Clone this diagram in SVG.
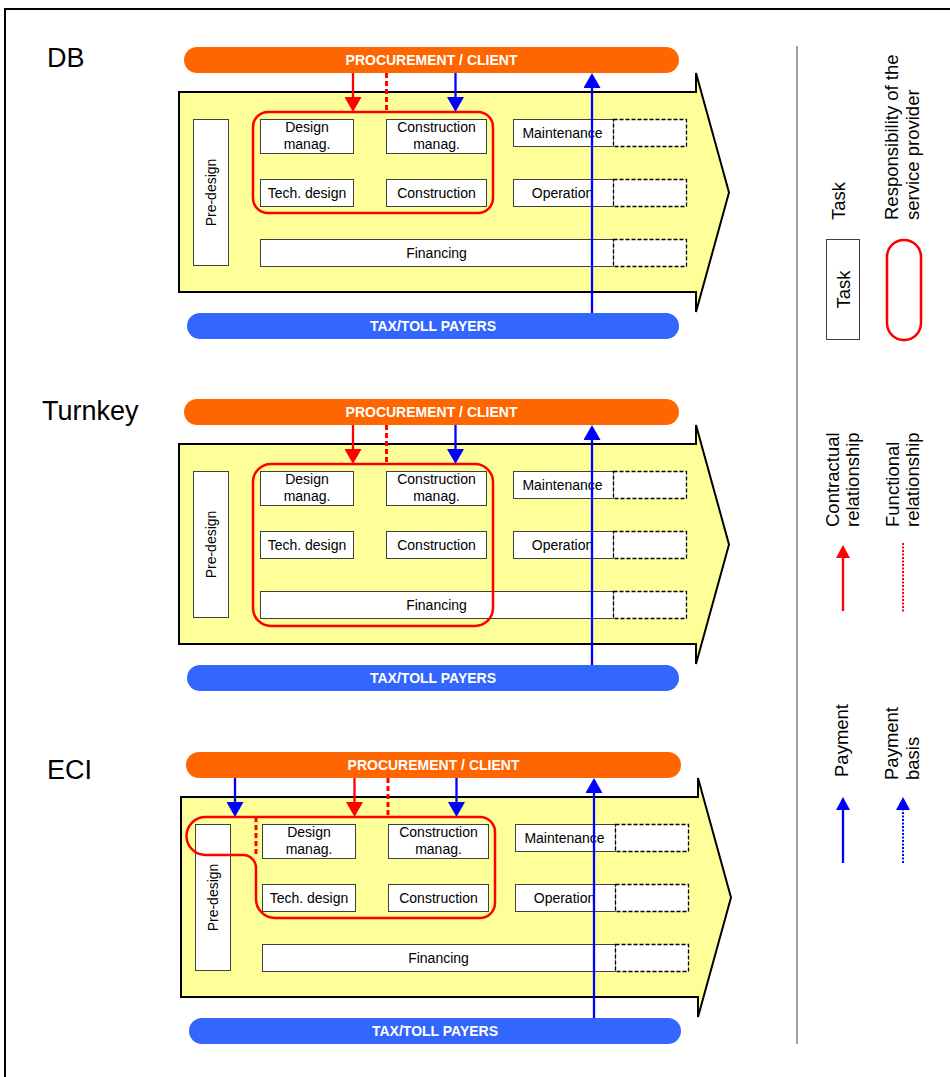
<svg xmlns="http://www.w3.org/2000/svg" width="950" height="1077" viewBox="0 0 950 1077">
<style>
text{font-family:"Liberation Sans",Arial,sans-serif;fill:#000}
.t{font-size:14px;text-anchor:middle}
.bt{font-size:14px;font-weight:bold;fill:#fff;text-anchor:middle}
.lbl{font-size:27px}
.leg{font-size:18.5px}
.box{fill:#fff;stroke:#404040;stroke-width:1}
.dbox{fill:#fff;stroke:#000;stroke-width:1.3;stroke-dasharray:4 2}
.body{fill:#ffff99;stroke:#000;stroke-width:2}
.resp{fill:none;stroke:#f00;stroke-width:2.5}
.proc{fill:#ff6600}
.pay{fill:#3366ff}
.cr{stroke:#f00;stroke-width:2.3;fill:none}
.cb{stroke:#00f;stroke-width:2.3;fill:none}
.fr{stroke:#f00;stroke-width:3;stroke-dasharray:5 3;fill:none}
.dotr{stroke:#f00;stroke-width:2;stroke-dasharray:2 1.5;fill:none}
.dotb{stroke:#00f;stroke-width:2;stroke-dasharray:2 1.5;fill:none}
</style>
<defs>
<marker id="ah-red" viewBox="0 0 15 17" refX="0" refY="8.5" markerWidth="15" markerHeight="17" markerUnits="userSpaceOnUse" orient="auto"><path d="M0,0 L15,8.5 L0,17 Z" fill="#f00"/></marker>
<marker id="ah-blue" viewBox="0 0 15 17" refX="0" refY="8.5" markerWidth="15" markerHeight="17" markerUnits="userSpaceOnUse" orient="auto"><path d="M0,0 L15,8.5 L0,17 Z" fill="#00f"/></marker>
<marker id="ahs-red" viewBox="0 0 13 14" refX="0" refY="7" markerWidth="13" markerHeight="14" markerUnits="userSpaceOnUse" orient="auto"><path d="M0,0 L13,7 L0,14 Z" fill="#f00"/></marker>
<marker id="ahs-blue" viewBox="0 0 13 14" refX="0" refY="7" markerWidth="13" markerHeight="14" markerUnits="userSpaceOnUse" orient="auto"><path d="M0,0 L13,7 L0,14 Z" fill="#00f"/></marker>
</defs>

<path d="M5,1077 V9 H950" fill="none" stroke="#000" stroke-width="2"/>

<!-- DB panel -->
<g id="panel-db">
<text id="db-label" class="lbl" x="47" y="67">DB</text>
<g id="db-procurement"><rect class="proc" x="184" y="47" width="495" height="26" rx="13"/><text class="bt" x="431.5" y="65">PROCUREMENT / CLIENT</text></g>
<g id="db-payers"><rect class="pay" x="187" y="313" width="492" height="26" rx="13"/><text class="bt" x="433" y="331">TAX/TOLL PAYERS</text></g>
<g id="db-process"><path class="body" d="M179,92 H696 V73 L729,192.5 L696,312 V292 H179 Z"/></g>
<g id="db-predesign"><rect class="box" x="193.5" y="119.5" width="35" height="146"/><text class="t" transform="translate(215.5,192.5) rotate(-90)">Pre-design</text></g>
<g id="db-designmanag"><rect class="box" x="260.5" y="119.5" width="93" height="34"/><text class="t" x="307" y="132">Design</text><text class="t" x="307" y="149">manag.</text></g>
<g id="db-constrmanag"><rect class="box" x="386.5" y="119.5" width="100" height="34"/><text class="t" x="436.5" y="132">Construction</text><text class="t" x="436.5" y="149">manag.</text></g>
<g id="db-techdesign"><rect class="box" x="260.5" y="179.5" width="93" height="27"/><text class="t" x="307" y="198">Tech. design</text></g>
<g id="db-construction"><rect class="box" x="386.5" y="179.5" width="100" height="27"/><text class="t" x="436.5" y="198">Construction</text></g>
<g id="db-maintenance"><rect class="box" x="513.5" y="119.5" width="100" height="27"/><rect class="dbox" x="613.5" y="119.5" width="73" height="27"/><text class="t" x="562.5" y="138">Maintenance</text></g>
<g id="db-operation"><rect class="box" x="513.5" y="179.5" width="100" height="27"/><rect class="dbox" x="613.5" y="179.5" width="73" height="27"/><text class="t" x="562.5" y="198">Operation</text></g>
<g id="db-financing"><rect class="box" x="260.5" y="239.5" width="353" height="27"/><rect class="dbox" x="613.5" y="239.5" width="73" height="27"/><text class="t" x="436.5" y="258">Financing</text></g>
<g id="db-responsibility"><rect class="resp" x="253" y="112" width="240" height="101" rx="15"/></g>
</g>

<!-- Turnkey panel -->
<g id="panel-turnkey" transform="translate(0,352)">
<text id="tk-label" class="lbl" x="42" y="68">Turnkey</text>
<g id="tk-procurement"><rect class="proc" x="184" y="47" width="495" height="26" rx="13"/><text class="bt" x="431.5" y="65">PROCUREMENT / CLIENT</text></g>
<g id="tk-payers"><rect class="pay" x="187" y="313" width="492" height="26" rx="13"/><text class="bt" x="433" y="331">TAX/TOLL PAYERS</text></g>
<g id="tk-process"><path class="body" d="M179,92 H696 V73 L729,192.5 L696,312 V292 H179 Z"/></g>
<g id="tk-predesign"><rect class="box" x="193.5" y="119.5" width="35" height="146"/><text class="t" transform="translate(215.5,192.5) rotate(-90)">Pre-design</text></g>
<g id="tk-designmanag"><rect class="box" x="260.5" y="119.5" width="93" height="34"/><text class="t" x="307" y="132">Design</text><text class="t" x="307" y="149">manag.</text></g>
<g id="tk-constrmanag"><rect class="box" x="386.5" y="119.5" width="100" height="34"/><text class="t" x="436.5" y="132">Construction</text><text class="t" x="436.5" y="149">manag.</text></g>
<g id="tk-techdesign"><rect class="box" x="260.5" y="179.5" width="93" height="27"/><text class="t" x="307" y="198">Tech. design</text></g>
<g id="tk-construction"><rect class="box" x="386.5" y="179.5" width="100" height="27"/><text class="t" x="436.5" y="198">Construction</text></g>
<g id="tk-maintenance"><rect class="box" x="513.5" y="119.5" width="100" height="27"/><rect class="dbox" x="613.5" y="119.5" width="73" height="27"/><text class="t" x="562.5" y="138">Maintenance</text></g>
<g id="tk-operation"><rect class="box" x="513.5" y="179.5" width="100" height="27"/><rect class="dbox" x="613.5" y="179.5" width="73" height="27"/><text class="t" x="562.5" y="198">Operation</text></g>
<g id="tk-financing"><rect class="box" x="260.5" y="239.5" width="353" height="27"/><rect class="dbox" x="613.5" y="239.5" width="73" height="27"/><text class="t" x="436.5" y="258">Financing</text></g>
<g id="tk-responsibility"><rect class="resp" x="253" y="112" width="240" height="162" rx="18"/></g>
</g>

<!-- ECI panel -->
<g id="panel-eci" transform="translate(2,705)">
<text id="eci-label" class="lbl" x="45" y="74">ECI</text>
<g id="eci-procurement"><rect class="proc" x="184" y="47" width="495" height="26" rx="13"/><text class="bt" x="431.5" y="65">PROCUREMENT / CLIENT</text></g>
<g id="eci-payers"><rect class="pay" x="187" y="313" width="492" height="26" rx="13"/><text class="bt" x="433" y="331">TAX/TOLL PAYERS</text></g>
<g id="eci-process"><path class="body" d="M179,92 H696 V73 L729,192.5 L696,312 V292 H179 Z"/></g>
<g id="eci-predesign"><rect class="box" x="193.5" y="119.5" width="35" height="146"/><text class="t" transform="translate(215.5,192.5) rotate(-90)">Pre-design</text></g>
<g id="eci-designmanag"><rect class="box" x="260.5" y="119.5" width="93" height="34"/><text class="t" x="307" y="132">Design</text><text class="t" x="307" y="149">manag.</text></g>
<g id="eci-constrmanag"><rect class="box" x="386.5" y="119.5" width="100" height="34"/><text class="t" x="436.5" y="132">Construction</text><text class="t" x="436.5" y="149">manag.</text></g>
<g id="eci-techdesign"><rect class="box" x="260.5" y="179.5" width="93" height="27"/><text class="t" x="307" y="198">Tech. design</text></g>
<g id="eci-construction"><rect class="box" x="386.5" y="179.5" width="100" height="27"/><text class="t" x="436.5" y="198">Construction</text></g>
<g id="eci-maintenance"><rect class="box" x="513.5" y="119.5" width="100" height="27"/><rect class="dbox" x="613.5" y="119.5" width="73" height="27"/><text class="t" x="562.5" y="138">Maintenance</text></g>
<g id="eci-operation"><rect class="box" x="513.5" y="179.5" width="100" height="27"/><rect class="dbox" x="613.5" y="179.5" width="73" height="27"/><text class="t" x="562.5" y="198">Operation</text></g>
<g id="eci-financing"><rect class="box" x="260.5" y="239.5" width="353" height="27"/><rect class="dbox" x="613.5" y="239.5" width="73" height="27"/><text class="t" x="436.5" y="258">Financing</text></g>
<g id="eci-responsibility"><path class="resp" d="M203.5,112 H478 A15,15 0 0 1 493,127 V198 A15,15 0 0 1 478,213 H273 A19,19 0 0 1 254,194 V163 A13,13 0 0 0 241,150 H203.5 A19,19 0 0 1 203.5,112 Z"/></g>
</g>

<!-- Legend -->
<g id="legend">
<line id="legend-divider" x1="797" y1="46" x2="797" y2="1044" stroke="#808080" stroke-width="1.5"/>
<g id="leg-task"><text class="leg" transform="translate(845,220) rotate(-90)">Task</text><rect class="box" x="826.5" y="239.5" width="33" height="100"/><text class="leg" text-anchor="middle" transform="translate(849.5,289.5) rotate(-90)">Task</text></g>
<g id="leg-resp"><text class="leg" transform="translate(898,220) rotate(-90)">Responsibility of the</text><text class="leg" transform="translate(919,220) rotate(-90)">service provider</text><rect class="resp" x="887" y="240" width="34" height="100" rx="17"/></g>
<g id="leg-contract"><text class="leg" transform="translate(839,527) rotate(-90)">Contractual</text><text class="leg" transform="translate(859,527) rotate(-90)">relationship</text></g>
<g id="leg-functional"><text class="leg" transform="translate(899,527) rotate(-90)">Functional</text><text class="leg" transform="translate(919,527) rotate(-90)">relationship</text></g>
<g id="leg-payment"><text class="leg" transform="translate(848,777) rotate(-90)">Payment</text></g>
<g id="leg-paybasis"><text class="leg" transform="translate(898,780) rotate(-90)">Payment</text><text class="leg" transform="translate(919,780) rotate(-90)">basis</text></g>
</g>

<!-- Connectors -->
<g id="connectors">
<g id="db-links">
<line class="cr" x1="353" y1="73" x2="353" y2="97" marker-end="url(#ah-red)"/>
<line class="fr" x1="386.5" y1="73" x2="386.5" y2="112"/>
<line class="cb" x1="455.5" y1="73" x2="455.5" y2="97" marker-end="url(#ah-blue)"/>
<line class="cb" x1="592" y1="313" x2="592" y2="88" marker-end="url(#ah-blue)"/>
</g>
<g id="tk-links" transform="translate(0,352)">
<line class="cr" x1="353" y1="73" x2="353" y2="97" marker-end="url(#ah-red)"/>
<line class="fr" x1="386.5" y1="73" x2="386.5" y2="112"/>
<line class="cb" x1="455.5" y1="73" x2="455.5" y2="97" marker-end="url(#ah-blue)"/>
<line class="cb" x1="592" y1="313" x2="592" y2="88" marker-end="url(#ah-blue)"/>
</g>
<g id="eci-links" transform="translate(2,705)">
<line class="cb" x1="233" y1="73" x2="233" y2="97" marker-end="url(#ah-blue)"/>
<line class="cr" x1="352.5" y1="73" x2="352.5" y2="97" marker-end="url(#ah-red)"/>
<line class="fr" x1="386" y1="73" x2="386" y2="112"/>
<line class="cb" x1="454.5" y1="73" x2="454.5" y2="97" marker-end="url(#ah-blue)"/>
<line class="cb" x1="592" y1="313" x2="592" y2="88" marker-end="url(#ah-blue)"/>
<line class="fr" x1="254" y1="112" x2="254" y2="151"/>
</g>
<g id="legend-links">
<line class="cr" x1="843" y1="611" x2="843" y2="558" marker-end="url(#ahs-red)"/>
<line class="dotr" x1="903" y1="543" x2="903" y2="612"/>
<line class="cb" x1="843" y1="863" x2="843" y2="810" marker-end="url(#ahs-blue)"/>
<line class="dotb" x1="903" y1="863" x2="903" y2="810" marker-end="url(#ahs-blue)"/>
</g>
</g>
</svg>
